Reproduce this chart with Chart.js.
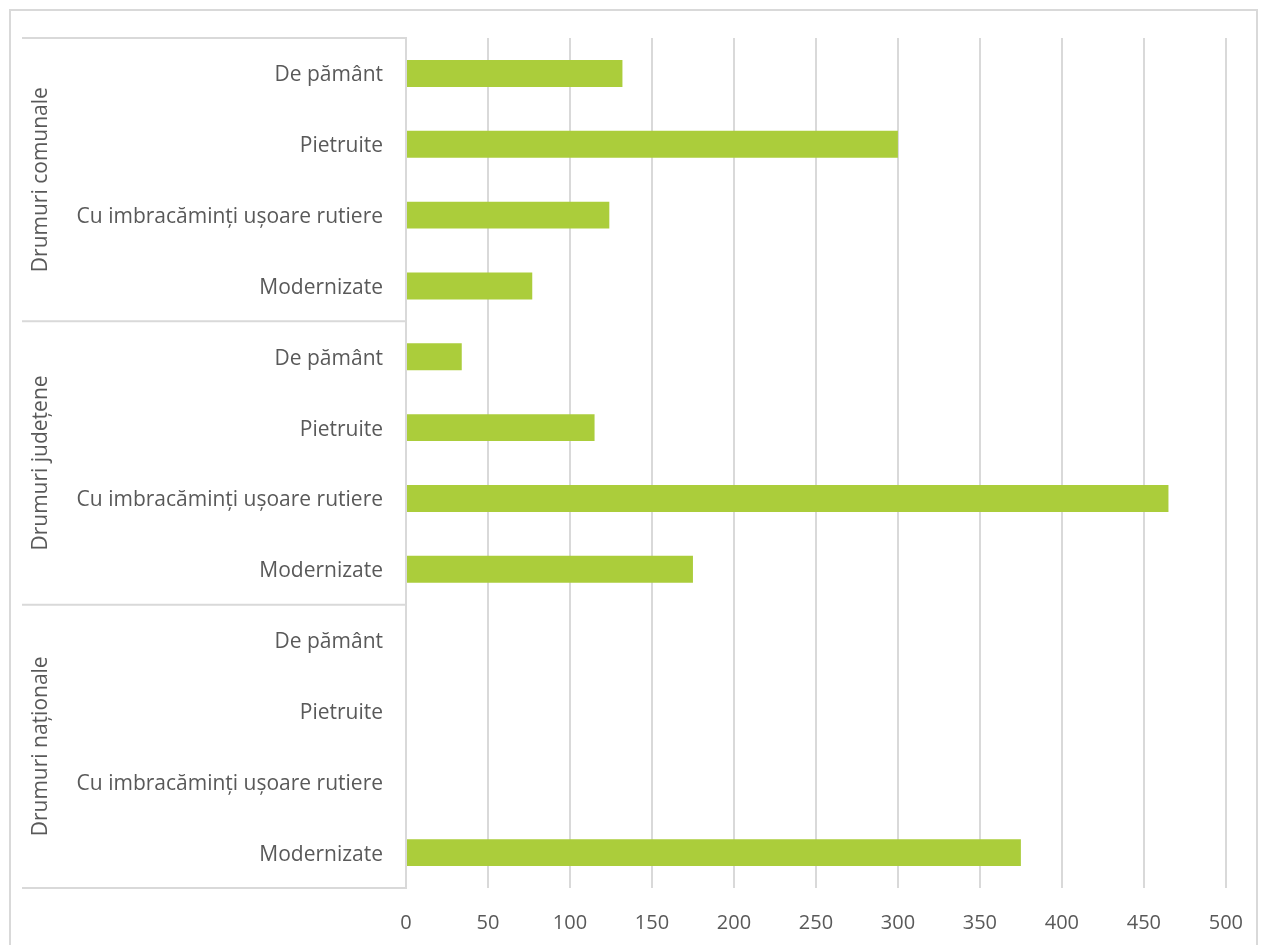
<!DOCTYPE html>
<html>
<head>
<meta charset="utf-8">
<script src="https://cdn.jsdelivr.net/npm/chart.js@4"></script>
<style>
  html, body { margin: 0; padding: 0; background: #fff; }
  #wrap { width: 1266px; height: 945px; position: relative; }
</style>
</head>
<body>
<div id="wrap"><canvas id="roadsChart"></canvas></div>
<script>
// top to bottom, as in the picture
const groups = ['Drumuri comunale', 'Drumuri județene', 'Drumuri naționale'];
const roadTypes = ['De pământ', 'Pietruite', 'Cu imbracăminți ușoare rutiere', 'Modernizate'];
const lengthsKm = [
  132, 300, 124, 77,   // comunale
  34, 115, 465, 175,   // judetene
  0, 0, 0, 375         // nationale
];
const xTicks = [0, 50, 100, 150, 200, 250, 300, 350, 400, 450, 500];

const labels = [];
groups.forEach(function () { roadTypes.forEach(function (t) { labels.push(t); }); });

const txtColor = '#595959';
const lineColor = '#d9d9d9';
const fontFam = '"Open Sans", sans-serif';

// draws the outer frame + the grouped category axis (like excel multi-level labels)
const groupAxis = {
  id: 'groupAxis',
  beforeDraw(chart) {
    const ctx = chart.ctx;
    ctx.save();
    ctx.strokeStyle = lineColor;
    ctx.lineWidth = 2;
    ctx.strokeRect(10, 10, 1247, 940);
    ctx.restore();
  },
  afterDraw(chart) {
    const ctx = chart.ctx;
    const y = chart.scales.y;
    const area = chart.chartArea;
    const per = roadTypes.length;
    ctx.save();
    ctx.strokeStyle = lineColor;
    ctx.lineWidth = 2;
    for (let g = 0; g <= groups.length; g++) {
      let yy;
      if (g === 0) yy = area.top;
      else if (g === groups.length) yy = area.bottom;
      else yy = (y.getPixelForValue(g * per - 1) + y.getPixelForValue(g * per)) / 2;
      ctx.beginPath();
      ctx.moveTo(22, yy);
      ctx.lineTo(area.left, yy);
      ctx.stroke();
    }
    ctx.fillStyle = txtColor;
    ctx.font = '21px ' + fontFam;
    ctx.textAlign = 'center';
    ctx.textBaseline = 'middle';
    groups.forEach(function (name, g) {
      const c = (y.getPixelForValue(g * per) + y.getPixelForValue(g * per + per - 1)) / 2;
      ctx.save();
      ctx.translate(41, c);
      ctx.rotate(-Math.PI / 2);
      ctx.fillText(name, 0, 0);
      ctx.restore();
    });
    ctx.restore();
  }
};

const config = {
  type: 'bar',
  data: {
    labels: labels,
    datasets: [{
      data: lengthsKm,
      backgroundColor: '#abcd3b',
      borderWidth: 0,
      categoryPercentage: 1,
      barPercentage: 0.38
    }]
  },
  options: {
    indexAxis: 'y',
    responsive: false,
    animation: false,
    layout: { padding: { top: 38, right: 36, bottom: 0, left: 0 } },
    plugins: {
      legend: { display: false },
      tooltip: { enabled: false }
    },
    scales: {
      x: {
        min: 0,
        max: 500,
        afterBuildTicks: function (scale) {
          scale.ticks = xTicks.map(function (v) { return { value: v }; });
        },
        afterFit: function (scale) { scale.height = 57; },
        grid: { color: lineColor, lineWidth: 2, drawTicks: false },
        border: { display: false },
        ticks: { color: txtColor, font: { family: fontFam, size: 20 }, padding: 23 }
      },
      y: {
        afterFit: function (scale) { scale.width = 406; },
        grid: { display: false, drawTicks: false },
        border: { display: true, color: lineColor, width: 2 },
        ticks: { color: txtColor, font: { family: fontFam, size: 21 }, padding: 23, labelOffset: 2, autoSkip: false }
      }
    }
  },
  plugins: [groupAxis]
};

const cv = document.getElementById('roadsChart');
cv.width = 1266;
cv.height = 945;
const myChart = new Chart(cv, config);
</script>
</body>
</html>
